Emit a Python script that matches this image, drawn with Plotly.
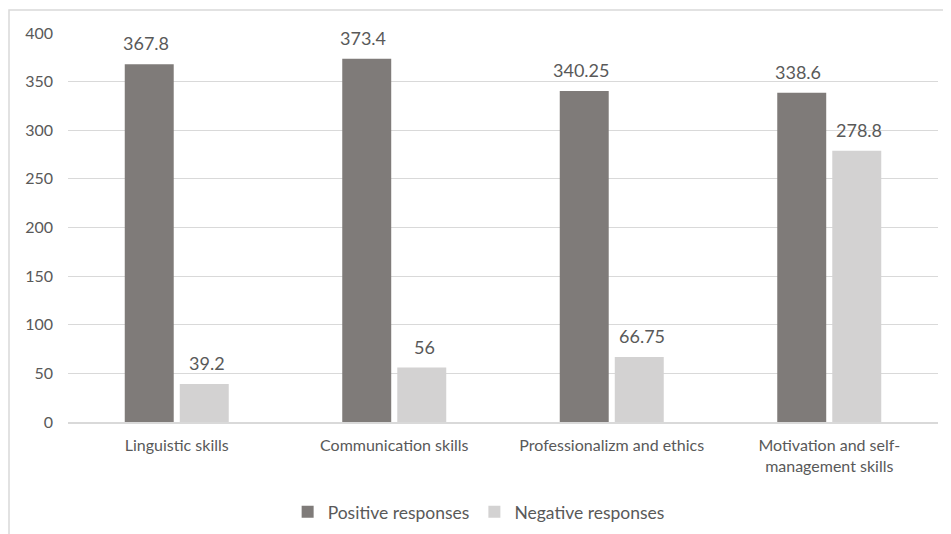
import plotly.graph_objects as go

categories = ["Linguistic skills", "Communication skills", "Professionalizm and ethics",
              "Motivation and self-<br>management skills"]
positive = [367.8, 373.4, 340.25, 338.6]
negative = [39.2, 56, 66.75, 278.8]
positive_labels = ["367.8", "373.4", "340.25", "338.6"]
negative_labels = ["39.2", "56", "66.75", "278.8"]

# page has an 8px body margin; size the figure to fit the window
W, H = 943, 526
ml, mr, mt, mb = 60, 13, 25, 112
pw, ph = W - ml - mr, H - mt - mb

font_fam = "Lato, Open Sans, sans-serif"
txt = "#595959"

fig = go.Figure()
fig.add_trace(go.Bar(x=categories, y=positive, name="Positive responses",
                     marker=dict(color="#7f7b79", line=dict(width=0))))
fig.add_trace(go.Bar(x=categories, y=negative, name="Negative responses",
                     marker=dict(color="#d3d2d2", line=dict(width=0))))

annotations = []
for cat, v, lab in zip(categories, positive, positive_labels):
    annotations.append(dict(x=cat, y=v, xref="x", yref="y", text=lab, showarrow=False,
                            xshift=-31, yshift=8, yanchor="bottom",
                            font=dict(size=18, color=txt, family=font_fam)))
for cat, v, lab in zip(categories, negative, negative_labels):
    annotations.append(dict(x=cat, y=v, xref="x", yref="y", text=lab, showarrow=False,
                            xshift=30, yshift=8, yanchor="bottom",
                            font=dict(size=18, color=txt, family=font_fam)))

fig.update_layout(
    width=W, height=H,
    margin=dict(l=ml, r=mr, t=mt, b=mb, autoexpand=False),
    paper_bgcolor="white", plot_bgcolor="white",
    barmode="group", bargap=0.494, bargroupgap=0.11,
    font=dict(family=font_fam, color=txt, size=16),
    showlegend=True,
    legend=dict(orientation="h", x=0.472, xanchor="center", y=-0.185, yanchor="top",
                font=dict(size=17.5, color=txt, family=font_fam),
                traceorder="normal"),
    xaxis=dict(showgrid=False, showline=True, linecolor="#d9d9d9", linewidth=1.5, ticks="",
               automargin=False, ticklabelstandoff=8,
               tickfont=dict(size=16, color=txt, family=font_fam)),
    yaxis=dict(range=[0, 400], dtick=50, showgrid=True, gridcolor="#d9d9d9",
               zeroline=False, showline=False, ticks="", ticklabelstandoff=14,
               automargin=False,
               tickfont=dict(size=16, color=txt, family=font_fam)),
    annotations=annotations,
    shapes=[dict(type="rect", xref="paper", yref="paper",
                 x0=(1 - ml) / pw, x1=(W + 5 - ml) / pw,
                 y0=-(H + 5 - (H - mb)) / ph, y1=1 + (mt - 2) / ph,
                 line=dict(color="#d9d9d9", width=1.5), layer="below")],
)

fig.write_html("out.html")
